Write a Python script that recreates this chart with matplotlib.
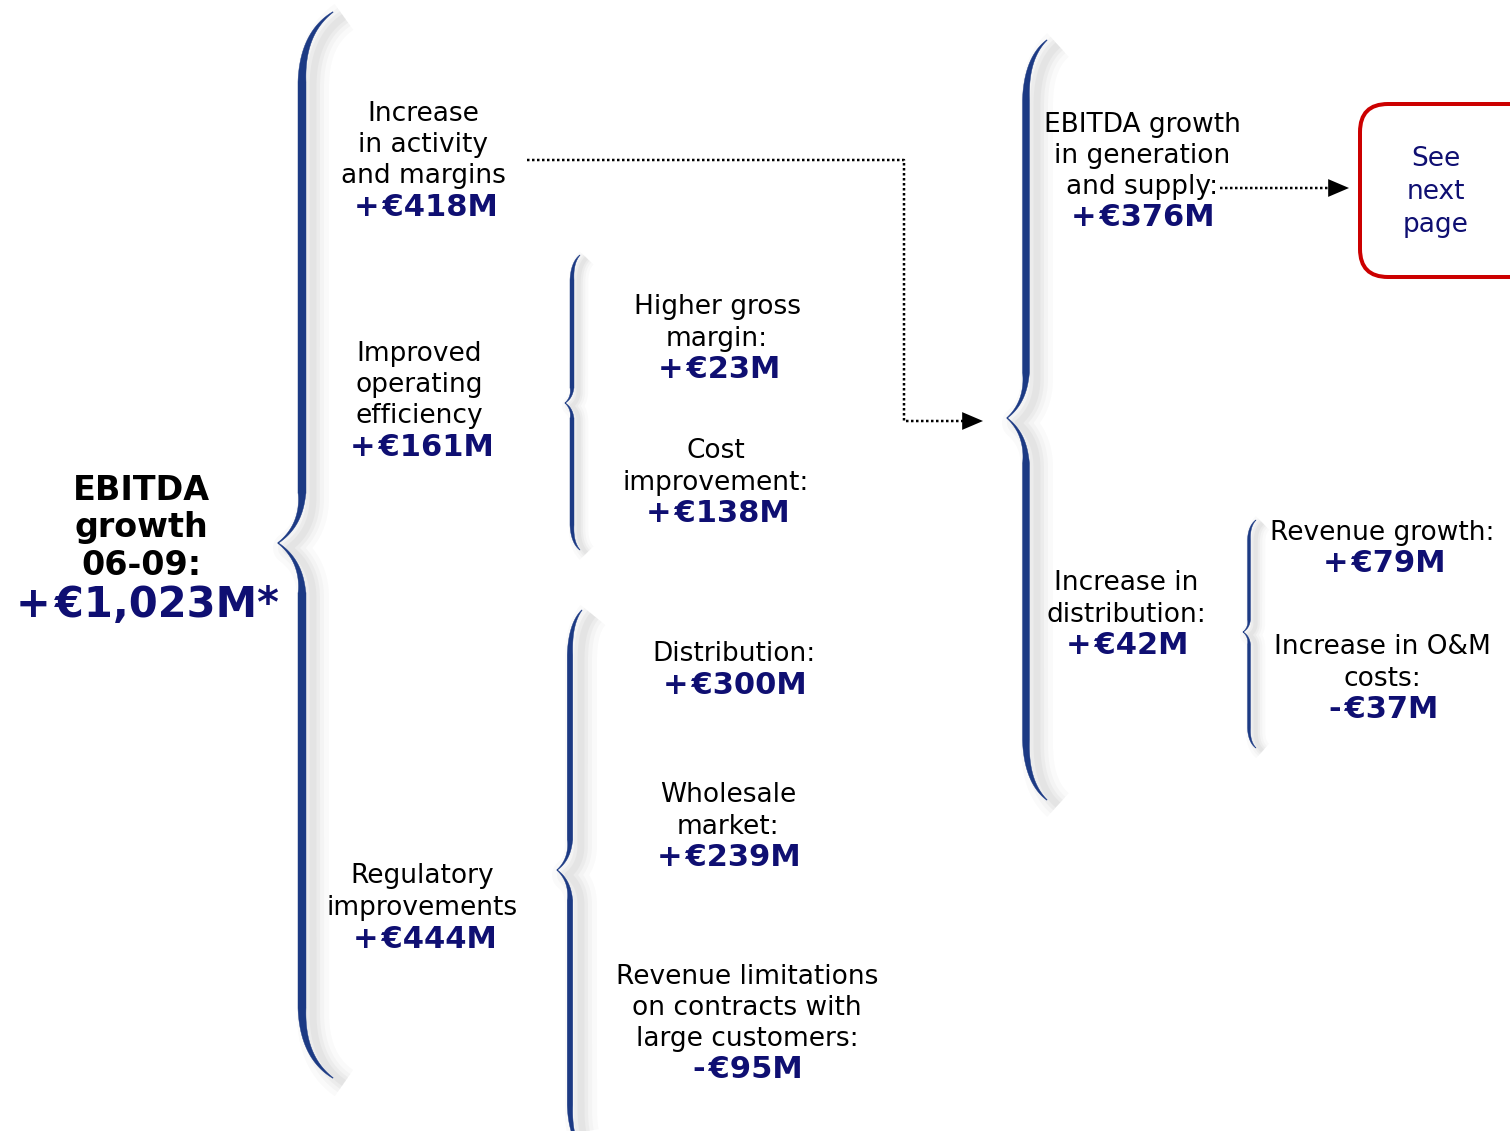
import numpy as np
import matplotlib
matplotlib.use("Agg")
import matplotlib.pyplot as plt
from matplotlib.patches import FancyBboxPatch

# EBITDA bridge 2006-09, in millions of euros
total_label = "EBITDA\ngrowth\n06-09:"
total_value = 1023

branch_labels = ["Increase\nin activity\nand margins", "Improved\noperating\nefficiency",
                 "Regulatory\nimprovements"]
branch_values = [418, 161, 444]

efficiency_labels = ["Higher gross\nmargin:", "Cost\nimprovement:"]
efficiency_values = [23, 138]

regulatory_labels = ["Distribution:", "Wholesale\nmarket:",
                     "Revenue limitations\non contracts with\nlarge customers:"]
regulatory_values = [300, 239, -95]

activity_labels = ["EBITDA growth\nin generation\nand supply:", "Increase in\ndistribution:"]
activity_values = [376, 42]

distribution_labels = ["Revenue growth:", "Increase in O&M\ncosts:"]
distribution_values = [79, -37]

note_text = "See\nnext\npage"

NAVY = "#0f0f72"
BRACE = "#1c3a84"
FONT = "DejaVu Sans"


def money(v, suffix=""):
    sign = "+" if v >= 0 else "-"
    return f"{sign}\u200a€{abs(v):,}M{suffix}"


def bezier(p0, p1, p2, n=40):
    t = np.linspace(0, 1, n)[:, None]
    return (1 - t) ** 2 * np.array(p0) + 2 * (1 - t) * t * np.array(p1) + t ** 2 * np.array(p2)


def brace_half(x_line, y_end, y_tip, x_end, x_tip, r_end, r_tip, wmax):
    # centreline and width from the free end to the tip
    d = 1 if y_tip > y_end else -1
    a = bezier((x_end, y_end), (x_line, y_end + d * 0.3 * r_end), (x_line, y_end + d * r_end))
    b = np.column_stack([np.full(30, x_line), np.linspace(y_end + d * r_end, y_tip - d * r_tip, 30)])
    c = bezier((x_line, y_tip - d * r_tip), (x_line, y_tip - d * 0.35 * r_tip), (x_tip, y_tip))
    t = np.linspace(0, 1, 40)
    w = np.concatenate([wmax * (0.08 + 0.92 * t ** 0.9), np.full(30, wmax), wmax * (1 - 0.9 * t ** 0.7)])
    return np.vstack([a, b, c]), w


def draw_brace(ax, x_line, y_top, y_tip, y_bot, x_end, x_tip, r_end, r_tip, wmax):
    top, wt = brace_half(x_line, y_top, y_tip, x_end, x_tip, r_end, r_tip, wmax)
    bot, wb = brace_half(x_line, y_bot, y_tip, x_end, x_tip, r_end, r_tip, wmax)
    pts = np.vstack([top, bot[::-1]])
    w = np.concatenate([wt, wb[::-1]])

    # soft grey shadow to the right
    sw = 1.0 if wmax > 5 else 0.6
    for lw, al in [(32, 0.035), (22, 0.045), (14, 0.055), (7, 0.06)]:
        ax.plot(pts[:, 0] + 11 * sw, pts[:, 1] + 5 * sw, color="0.45", alpha=al, lw=lw * sw * 0.72,
                solid_capstyle="butt", solid_joinstyle="round", zorder=1)

    g = np.gradient(pts, axis=0)
    g /= np.hypot(g[:, 0], g[:, 1])[:, None] + 1e-9
    nrm = np.column_stack([-g[:, 1], g[:, 0]])
    left = pts + nrm * w[:, None] / 2
    right = pts - nrm * w[:, None] / 2
    poly = np.vstack([left, right[::-1]])
    ax.fill(poly[:, 0], poly[:, 1], color=BRACE, lw=0.3, ec=BRACE, zorder=2)


def label(ax, x, y, text, size=19, color="black", weight="normal", ls=1.27):
    ax.text(x, y, text, ha="center", va="center", multialignment="center", fontsize=size,
            color=color, fontweight=weight, linespacing=ls, family=FONT, zorder=5)


def value(ax, x, y, v, size=22, suffix=""):
    label(ax, x, y, money(v, suffix), size=size, color=NAVY, weight="bold")


fig = plt.figure(figsize=(15.1, 11.31), dpi=100)
ax = fig.add_axes([0, 0, 1, 1])
ax.set_xlim(0, 1510)
ax.set_ylim(1131, 0)
ax.axis("off")

# braces
draw_brace(ax, 302, 12, 543, 1078, 333, 278, 70, 50, 8)
draw_brace(ax, 572, 255, 403, 550, 580, 565, 25, 15, 4)
draw_brace(ax, 570, 610, 870, 1150, 582, 557, 45, 30, 5.5)
draw_brace(ax, 1026, 40, 418, 800, 1047, 1007, 60, 45, 7)
draw_brace(ax, 1249, 520, 632, 748, 1256, 1243, 20, 12, 3)

# total
label(ax, 141, 528, total_label, size=24, weight="bold", ls=1.17)
value(ax, 147, 605, total_value, size=30, suffix="*")

# first level
for txt, v, (x, y, yv) in zip(branch_labels, branch_values,
                             [(423, 145, 207), (419, 385, 447), (422, 892, 939)]):
    label(ax, x, y, txt)
    value(ax, x + 3, yv, v)

for txt, v, (x, y, yv) in zip(efficiency_labels, efficiency_values,
                             [(717, 323, 370), (716, 467, 513)]):
    label(ax, x, y, txt)
    value(ax, x + 2, yv, v)

for txt, v, (x, y, yv) in zip(regulatory_labels, regulatory_values,
                             [(734, 654, 685), (728, 811, 857), (747, 1008, 1070)]):
    label(ax, x, y, txt)
    value(ax, x + 1, yv, v)

for txt, v, (x, y, yv) in zip(activity_labels, activity_values,
                             [(1142, 156, 217), (1126, 599, 646)]):
    label(ax, x, y, txt)
    value(ax, x + 1, yv, v)

for txt, v, (x, y, yv) in zip(distribution_labels, distribution_values,
                             [(1382, 533, 564), (1382, 663, 710)]):
    label(ax, x, y, txt)
    value(ax, x + 2, yv, v)

# dotted connectors
dot = dict(color="black", lw=2.5 * 0.72, ls=(0, (1, 1)), zorder=3)
ax.plot([527, 904, 904, 968], [160, 160, 421, 421], **dot)
ax.plot([1220, 1334], [188, 188], **dot)
arrow = dict(arrowstyle="-|>,head_length=0.75,head_width=0.32", color="black", lw=0,
             shrinkA=0, shrinkB=0, mutation_scale=20)
ax.annotate("", xy=(983, 421), xytext=(966, 421), arrowprops=arrow)
ax.annotate("", xy=(1349, 188), xytext=(1332, 188), arrowprops=arrow)

# reference box
box = FancyBboxPatch((1360, 104), 210, 173, boxstyle="round,pad=0,rounding_size=28",
                     fc="white", ec="#cc0000", lw=4 * 0.72, zorder=4)
ax.add_patch(box)
label(ax, 1436, 192, note_text, size=19, color=NAVY, ls=1.35)

fig.savefig("out.png", dpi=100, facecolor="white")
